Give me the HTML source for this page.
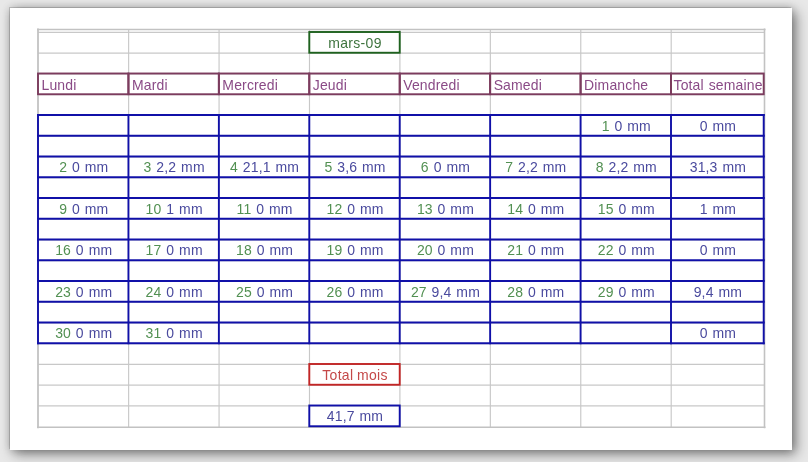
<!DOCTYPE html>
<html><head><meta charset="utf-8"><style>
html,body{margin:0;padding:0;}
body{width:808px;height:462px;overflow:hidden;background:#e8e8e8;position:relative;}
#page{position:absolute;left:10px;top:8px;width:782px;height:442px;background:#fff;
box-shadow:-1px -1px 0 rgba(0,0,0,0.15), 0 0 8px rgba(0,0,0,0.2), 4px 4px 12px rgba(0,0,0,0.45);}
#wrap{position:absolute;left:0;top:0;width:808px;height:462px;will-change:transform;}
svg{position:absolute;left:0;top:0;}
text{font-family:"Liberation Sans",sans-serif;font-size:14px;word-spacing:0.8px;letter-spacing:0.15px;}
</style></head><body>
<div id="page"></div>
<div id="wrap"><svg width="808" height="462" viewBox="0 0 808 462">
<line x1="38.00" y1="32.35" x2="764.50" y2="32.35" stroke="#c8c8c8" stroke-width="1.15"/>
<line x1="38.00" y1="53.10" x2="764.50" y2="53.10" stroke="#c8c8c8" stroke-width="1.15"/>
<line x1="38.00" y1="73.85" x2="764.50" y2="73.85" stroke="#c8c8c8" stroke-width="1.15"/>
<line x1="38.00" y1="94.60" x2="764.50" y2="94.60" stroke="#c8c8c8" stroke-width="1.15"/>
<line x1="38.00" y1="115.35" x2="764.50" y2="115.35" stroke="#c8c8c8" stroke-width="1.15"/>
<line x1="38.00" y1="136.10" x2="764.50" y2="136.10" stroke="#c8c8c8" stroke-width="1.15"/>
<line x1="38.00" y1="156.85" x2="764.50" y2="156.85" stroke="#c8c8c8" stroke-width="1.15"/>
<line x1="38.00" y1="177.60" x2="764.50" y2="177.60" stroke="#c8c8c8" stroke-width="1.15"/>
<line x1="38.00" y1="198.35" x2="764.50" y2="198.35" stroke="#c8c8c8" stroke-width="1.15"/>
<line x1="38.00" y1="219.10" x2="764.50" y2="219.10" stroke="#c8c8c8" stroke-width="1.15"/>
<line x1="38.00" y1="239.85" x2="764.50" y2="239.85" stroke="#c8c8c8" stroke-width="1.15"/>
<line x1="38.00" y1="260.60" x2="764.50" y2="260.60" stroke="#c8c8c8" stroke-width="1.15"/>
<line x1="38.00" y1="281.35" x2="764.50" y2="281.35" stroke="#c8c8c8" stroke-width="1.15"/>
<line x1="38.00" y1="302.10" x2="764.50" y2="302.10" stroke="#c8c8c8" stroke-width="1.15"/>
<line x1="38.00" y1="322.85" x2="764.50" y2="322.85" stroke="#c8c8c8" stroke-width="1.15"/>
<line x1="38.00" y1="343.60" x2="764.50" y2="343.60" stroke="#c8c8c8" stroke-width="1.15"/>
<line x1="38.00" y1="364.35" x2="764.50" y2="364.35" stroke="#c8c8c8" stroke-width="1.15"/>
<line x1="38.00" y1="385.10" x2="764.50" y2="385.10" stroke="#c8c8c8" stroke-width="1.15"/>
<line x1="38.00" y1="405.85" x2="764.50" y2="405.85" stroke="#c8c8c8" stroke-width="1.15"/>
<line x1="128.63" y1="29.50" x2="128.63" y2="427.20" stroke="#c8c8c8" stroke-width="1.15"/>
<line x1="219.06" y1="29.50" x2="219.06" y2="427.20" stroke="#c8c8c8" stroke-width="1.15"/>
<line x1="309.49" y1="29.50" x2="309.49" y2="427.20" stroke="#c8c8c8" stroke-width="1.15"/>
<line x1="399.91" y1="29.50" x2="399.91" y2="427.20" stroke="#c8c8c8" stroke-width="1.15"/>
<line x1="490.34" y1="29.50" x2="490.34" y2="427.20" stroke="#c8c8c8" stroke-width="1.15"/>
<line x1="580.77" y1="29.50" x2="580.77" y2="427.20" stroke="#c8c8c8" stroke-width="1.15"/>
<line x1="671.20" y1="29.50" x2="671.20" y2="427.20" stroke="#c8c8c8" stroke-width="1.15"/>
<line x1="37.00" y1="29.50" x2="765.50" y2="29.50" stroke="#c2c2c2" stroke-width="1.6"/>
<line x1="37.00" y1="427.20" x2="765.50" y2="427.20" stroke="#c2c2c2" stroke-width="1.6"/>
<line x1="38.00" y1="28.50" x2="38.00" y2="428.20" stroke="#c2c2c2" stroke-width="1.8"/>
<line x1="764.50" y1="28.50" x2="764.50" y2="428.20" stroke="#c2c2c2" stroke-width="1.6"/>
<rect x="38.00" y="73.50" width="90.43" height="20.75" fill="none" stroke="#7c3c5e" stroke-width="1.9"/>
<rect x="128.43" y="73.50" width="90.43" height="20.75" fill="none" stroke="#7c3c5e" stroke-width="1.9"/>
<rect x="218.86" y="73.50" width="90.43" height="20.75" fill="none" stroke="#7c3c5e" stroke-width="1.9"/>
<rect x="309.29" y="73.50" width="90.43" height="20.75" fill="none" stroke="#7c3c5e" stroke-width="1.9"/>
<rect x="399.71" y="73.50" width="90.43" height="20.75" fill="none" stroke="#7c3c5e" stroke-width="1.9"/>
<rect x="490.14" y="73.50" width="90.43" height="20.75" fill="none" stroke="#7c3c5e" stroke-width="1.9"/>
<rect x="580.57" y="73.50" width="90.43" height="20.75" fill="none" stroke="#7c3c5e" stroke-width="1.9"/>
<rect x="671.00" y="73.50" width="92.70" height="20.75" fill="none" stroke="#7c3c5e" stroke-width="1.9"/>
<line x1="37.00" y1="115.00" x2="764.70" y2="115.00" stroke="#1010a8" stroke-width="1.9"/>
<line x1="37.00" y1="135.75" x2="764.70" y2="135.75" stroke="#1010a8" stroke-width="1.9"/>
<line x1="37.00" y1="156.50" x2="764.70" y2="156.50" stroke="#1010a8" stroke-width="1.9"/>
<line x1="37.00" y1="177.25" x2="764.70" y2="177.25" stroke="#1010a8" stroke-width="1.9"/>
<line x1="37.00" y1="198.00" x2="764.70" y2="198.00" stroke="#1010a8" stroke-width="1.9"/>
<line x1="37.00" y1="218.75" x2="764.70" y2="218.75" stroke="#1010a8" stroke-width="1.9"/>
<line x1="37.00" y1="239.50" x2="764.70" y2="239.50" stroke="#1010a8" stroke-width="1.9"/>
<line x1="37.00" y1="260.25" x2="764.70" y2="260.25" stroke="#1010a8" stroke-width="1.9"/>
<line x1="37.00" y1="281.00" x2="764.70" y2="281.00" stroke="#1010a8" stroke-width="1.9"/>
<line x1="37.00" y1="301.75" x2="764.70" y2="301.75" stroke="#1010a8" stroke-width="1.9"/>
<line x1="37.00" y1="322.50" x2="764.70" y2="322.50" stroke="#1010a8" stroke-width="1.9"/>
<line x1="37.00" y1="343.25" x2="764.70" y2="343.25" stroke="#1010a8" stroke-width="1.9"/>
<line x1="38.00" y1="114.00" x2="38.00" y2="344.25" stroke="#1010a8" stroke-width="1.9"/>
<line x1="128.43" y1="114.00" x2="128.43" y2="344.25" stroke="#1010a8" stroke-width="1.9"/>
<line x1="218.86" y1="114.00" x2="218.86" y2="344.25" stroke="#1010a8" stroke-width="1.9"/>
<line x1="309.29" y1="114.00" x2="309.29" y2="344.25" stroke="#1010a8" stroke-width="1.9"/>
<line x1="399.71" y1="114.00" x2="399.71" y2="344.25" stroke="#1010a8" stroke-width="1.9"/>
<line x1="490.14" y1="114.00" x2="490.14" y2="344.25" stroke="#1010a8" stroke-width="1.9"/>
<line x1="580.57" y1="114.00" x2="580.57" y2="344.25" stroke="#1010a8" stroke-width="1.9"/>
<line x1="671.00" y1="114.00" x2="671.00" y2="344.25" stroke="#1010a8" stroke-width="1.9"/>
<line x1="763.70" y1="114.00" x2="763.70" y2="344.25" stroke="#1010a8" stroke-width="1.9"/>
<rect x="309.29" y="32.00" width="90.43" height="20.75" fill="none" stroke="#1f621f" stroke-width="1.9"/>
<rect x="309.29" y="364.00" width="90.43" height="20.75" fill="none" stroke="#c22626" stroke-width="1.9"/>
<rect x="309.29" y="405.50" width="90.43" height="20.75" fill="none" stroke="#1010a8" stroke-width="1.9"/>
<text transform="translate(355.00 47.60) scale(1 1.08)" text-anchor="middle" style="letter-spacing:0.3px"><tspan fill="#3f743f">mars-09</tspan></text>
<text transform="translate(41.50 89.50) scale(1 1.08)" fill="#8a4a86" letter-spacing="0.5">Lundi</text>
<text transform="translate(131.93 89.50) scale(1 1.08)" fill="#8a4a86" letter-spacing="0.5">Mardi</text>
<text transform="translate(222.36 89.50) scale(1 1.08)" fill="#8a4a86" letter-spacing="0.5">Mercredi</text>
<text transform="translate(312.79 89.50) scale(1 1.08)" fill="#8a4a86" letter-spacing="0.5">Jeudi</text>
<text transform="translate(403.21 89.50) scale(1 1.08)" fill="#8a4a86" letter-spacing="0.5">Vendredi</text>
<text transform="translate(493.64 89.50) scale(1 1.08)" fill="#8a4a86" letter-spacing="0.5">Samedi</text>
<text transform="translate(584.07 89.50) scale(1 1.08)" fill="#8a4a86" letter-spacing="0.5">Dimanche</text>
<text transform="translate(673.50 89.50) scale(1 1.08)" fill="#8a4a86" letter-spacing="0.1">Total semaine</text>
<text transform="translate(626.29 130.60) scale(1 1.08)" text-anchor="middle"><tspan fill="#529052">1 </tspan><tspan fill="#4a4a9e">0 mm</tspan></text>
<text transform="translate(717.85 130.60) scale(1 1.08)" text-anchor="middle"><tspan fill="#4a4a9e">0 mm</tspan></text>
<text transform="translate(83.71 172.10) scale(1 1.08)" text-anchor="middle"><tspan fill="#529052">2 </tspan><tspan fill="#4a4a9e">0 mm</tspan></text>
<text transform="translate(174.14 172.10) scale(1 1.08)" text-anchor="middle"><tspan fill="#529052">3 </tspan><tspan fill="#4a4a9e">2,2 mm</tspan></text>
<text transform="translate(264.57 172.10) scale(1 1.08)" text-anchor="middle"><tspan fill="#529052">4 </tspan><tspan fill="#4a4a9e">21,1 mm</tspan></text>
<text transform="translate(355.00 172.10) scale(1 1.08)" text-anchor="middle"><tspan fill="#529052">5 </tspan><tspan fill="#4a4a9e">3,6 mm</tspan></text>
<text transform="translate(445.43 172.10) scale(1 1.08)" text-anchor="middle"><tspan fill="#529052">6 </tspan><tspan fill="#4a4a9e">0 mm</tspan></text>
<text transform="translate(535.86 172.10) scale(1 1.08)" text-anchor="middle"><tspan fill="#529052">7 </tspan><tspan fill="#4a4a9e">2,2 mm</tspan></text>
<text transform="translate(626.29 172.10) scale(1 1.08)" text-anchor="middle"><tspan fill="#529052">8 </tspan><tspan fill="#4a4a9e">2,2 mm</tspan></text>
<text transform="translate(717.85 172.10) scale(1 1.08)" text-anchor="middle"><tspan fill="#4a4a9e">31,3 mm</tspan></text>
<text transform="translate(83.71 213.60) scale(1 1.08)" text-anchor="middle"><tspan fill="#529052">9 </tspan><tspan fill="#4a4a9e">0 mm</tspan></text>
<text transform="translate(174.14 213.60) scale(1 1.08)" text-anchor="middle"><tspan fill="#529052">10 </tspan><tspan fill="#4a4a9e">1 mm</tspan></text>
<text transform="translate(264.57 213.60) scale(1 1.08)" text-anchor="middle"><tspan fill="#529052">11 </tspan><tspan fill="#4a4a9e">0 mm</tspan></text>
<text transform="translate(355.00 213.60) scale(1 1.08)" text-anchor="middle"><tspan fill="#529052">12 </tspan><tspan fill="#4a4a9e">0 mm</tspan></text>
<text transform="translate(445.43 213.60) scale(1 1.08)" text-anchor="middle"><tspan fill="#529052">13 </tspan><tspan fill="#4a4a9e">0 mm</tspan></text>
<text transform="translate(535.86 213.60) scale(1 1.08)" text-anchor="middle"><tspan fill="#529052">14 </tspan><tspan fill="#4a4a9e">0 mm</tspan></text>
<text transform="translate(626.29 213.60) scale(1 1.08)" text-anchor="middle"><tspan fill="#529052">15 </tspan><tspan fill="#4a4a9e">0 mm</tspan></text>
<text transform="translate(717.85 213.60) scale(1 1.08)" text-anchor="middle"><tspan fill="#4a4a9e">1 mm</tspan></text>
<text transform="translate(83.71 255.10) scale(1 1.08)" text-anchor="middle"><tspan fill="#529052">16 </tspan><tspan fill="#4a4a9e">0 mm</tspan></text>
<text transform="translate(174.14 255.10) scale(1 1.08)" text-anchor="middle"><tspan fill="#529052">17 </tspan><tspan fill="#4a4a9e">0 mm</tspan></text>
<text transform="translate(264.57 255.10) scale(1 1.08)" text-anchor="middle"><tspan fill="#529052">18 </tspan><tspan fill="#4a4a9e">0 mm</tspan></text>
<text transform="translate(355.00 255.10) scale(1 1.08)" text-anchor="middle"><tspan fill="#529052">19 </tspan><tspan fill="#4a4a9e">0 mm</tspan></text>
<text transform="translate(445.43 255.10) scale(1 1.08)" text-anchor="middle"><tspan fill="#529052">20 </tspan><tspan fill="#4a4a9e">0 mm</tspan></text>
<text transform="translate(535.86 255.10) scale(1 1.08)" text-anchor="middle"><tspan fill="#529052">21 </tspan><tspan fill="#4a4a9e">0 mm</tspan></text>
<text transform="translate(626.29 255.10) scale(1 1.08)" text-anchor="middle"><tspan fill="#529052">22 </tspan><tspan fill="#4a4a9e">0 mm</tspan></text>
<text transform="translate(717.85 255.10) scale(1 1.08)" text-anchor="middle"><tspan fill="#4a4a9e">0 mm</tspan></text>
<text transform="translate(83.71 296.60) scale(1 1.08)" text-anchor="middle"><tspan fill="#529052">23 </tspan><tspan fill="#4a4a9e">0 mm</tspan></text>
<text transform="translate(174.14 296.60) scale(1 1.08)" text-anchor="middle"><tspan fill="#529052">24 </tspan><tspan fill="#4a4a9e">0 mm</tspan></text>
<text transform="translate(264.57 296.60) scale(1 1.08)" text-anchor="middle"><tspan fill="#529052">25 </tspan><tspan fill="#4a4a9e">0 mm</tspan></text>
<text transform="translate(355.00 296.60) scale(1 1.08)" text-anchor="middle"><tspan fill="#529052">26 </tspan><tspan fill="#4a4a9e">0 mm</tspan></text>
<text transform="translate(445.43 296.60) scale(1 1.08)" text-anchor="middle"><tspan fill="#529052">27 </tspan><tspan fill="#4a4a9e">9,4 mm</tspan></text>
<text transform="translate(535.86 296.60) scale(1 1.08)" text-anchor="middle"><tspan fill="#529052">28 </tspan><tspan fill="#4a4a9e">0 mm</tspan></text>
<text transform="translate(626.29 296.60) scale(1 1.08)" text-anchor="middle"><tspan fill="#529052">29 </tspan><tspan fill="#4a4a9e">0 mm</tspan></text>
<text transform="translate(717.85 296.60) scale(1 1.08)" text-anchor="middle"><tspan fill="#4a4a9e">9,4 mm</tspan></text>
<text transform="translate(83.71 338.10) scale(1 1.08)" text-anchor="middle"><tspan fill="#529052">30 </tspan><tspan fill="#4a4a9e">0 mm</tspan></text>
<text transform="translate(174.14 338.10) scale(1 1.08)" text-anchor="middle"><tspan fill="#529052">31 </tspan><tspan fill="#4a4a9e">0 mm</tspan></text>
<text transform="translate(717.85 338.10) scale(1 1.08)" text-anchor="middle"><tspan fill="#4a4a9e">0 mm</tspan></text>
<text transform="translate(355.00 379.60) scale(1 1.08)" text-anchor="middle" style="letter-spacing:0.3px;word-spacing:-0.5px"><tspan fill="#c44848">Total mois</tspan></text>
<text transform="translate(355.00 421.10) scale(1 1.08)" text-anchor="middle"><tspan fill="#4a4a9e">41,7 mm</tspan></text>
</svg></div>
</body></html>
